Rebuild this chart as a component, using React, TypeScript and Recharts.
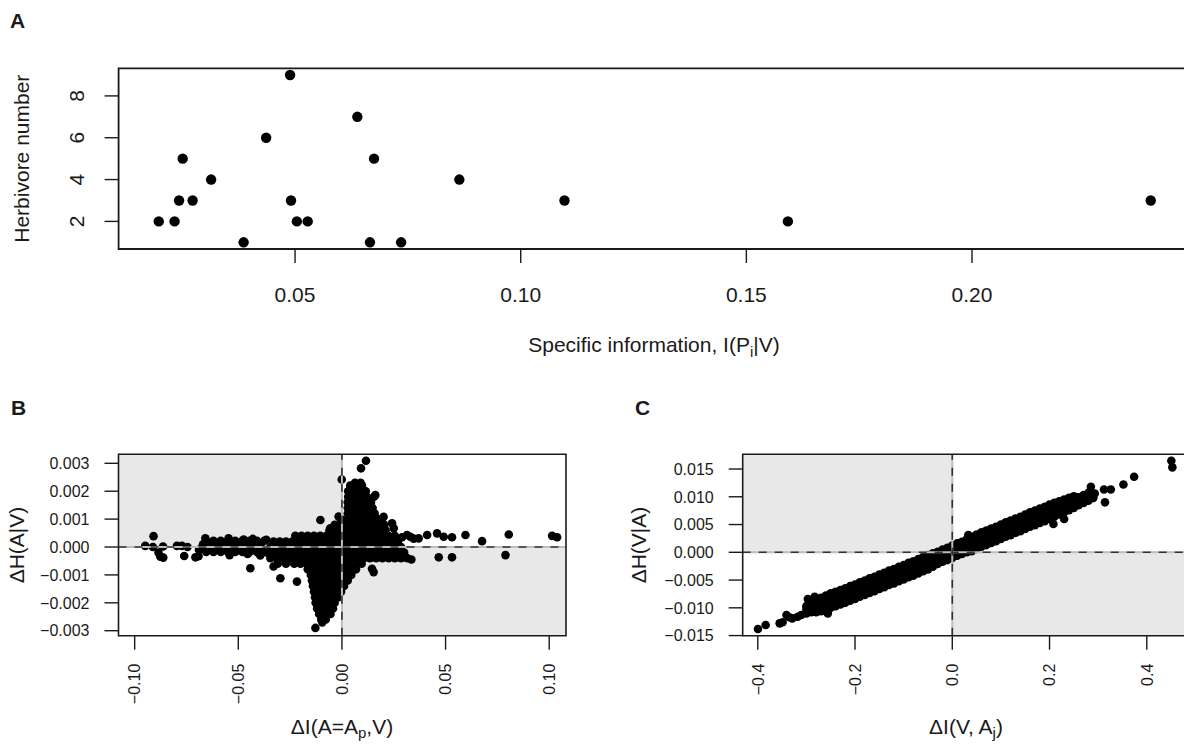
import React from 'react';
import { ScatterChart, Scatter, XAxis, YAxis, ReferenceArea, ReferenceLine } from 'recharts';

const FONT = '"Liberation Sans", Arial, Helvetica, sans-serif';
const INK = '#1a1a1a';
const SHADE = '#e8e8e8';
const ZERO_LINE = '#bdbdbd';

// ---------- Panel A: specific information vs herbivore number ----------
const aInfo = [0.0198, 0.0233, 0.0243, 0.0251, 0.0273, 0.0314, 0.0386, 0.0436, 0.0489, 0.0491,
  0.0504, 0.0528, 0.0638, 0.0666, 0.0675, 0.0735, 0.0864, 0.1097, 0.1592, 0.2396];
const aHerbivores = [2, 2, 3, 5, 3, 4, 1, 6, 9, 3, 2, 2, 7, 1, 5, 1, 4, 3, 2, 3];
const aTicksX = [0.05, 0.1, 0.15, 0.2];
const aTicksY = [2, 4, 6, 8];

// ---------- Panel B: dense cloud, read row by row (y, x values) ----------
const bCoreRows: [number, number[]][] = [
  [0.0004, [-0.0225, -0.0195, -0.0165, -0.0135, -0.0105, -0.0075, -0.0045, -0.0015, 0.0015, 0.0045, 0.0075, 0.0105, 0.0135, 0.0165, 0.0195, 0.0225, 0.0255]],
  [0.0002, [-0.033, -0.03, -0.027, -0.024, -0.021, -0.018, -0.015, -0.012, -0.009, -0.006, -0.003, 0, 0.003, 0.006, 0.009, 0.012, 0.015, 0.018, 0.021, 0.024, 0.027]],
  [0, [-0.0345, -0.0315, -0.0285, -0.0255, -0.0225, -0.0195, -0.0165, -0.0135, -0.0105, -0.0075, -0.0045, -0.0015, 0.0015, 0.0045, 0.0075, 0.0105, 0.0135, 0.0165, 0.0195, 0.0225, 0.0255, 0.0285]],
  [-0.0002, [-0.036, -0.033, -0.03, -0.027, -0.024, -0.021, -0.018, -0.015, -0.012, -0.009, -0.006, -0.003, 0, 0.003, 0.006, 0.009, 0.012, 0.015, 0.018, 0.021, 0.024, 0.027, 0.03]],
  [-0.0004, [-0.0345, -0.0315, -0.0285, -0.0255, -0.0225, -0.0195, -0.0165, -0.0135, -0.0105, -0.0075, -0.0045, -0.0015, 0.0015, 0.0045, 0.0075, 0.0105, 0.0135, 0.0165, 0.0195, 0.0225, 0.0255, 0.0285, 0.0315]],
];
const bLeftRows: [number, number[]][] = [
  [0.00022, [-0.0655, -0.062, -0.0585, -0.055, -0.0515, -0.048, -0.0445, -0.041, -0.0375]],
  [0.00002, [-0.0672, -0.0638, -0.0603, -0.0568, -0.0533, -0.0498, -0.0463, -0.0428, -0.0393]],
  [-0.00018, [-0.0655, -0.062, -0.0585, -0.055, -0.0515, -0.048, -0.0445, -0.041, -0.0375]],
];
const bDropRows: [number, number[]][] = [
  [-0.0006, [-0.031, -0.027, -0.023, -0.02, -0.017, -0.014, -0.011, -0.008, -0.005, -0.002, 0.001, 0.004, 0.007, 0.0095]],
  [-0.0008, [-0.0165, -0.0135, -0.0105, -0.0075, -0.0045, -0.0015, 0.0015, 0.0045, 0.0068]],
  [-0.001, [-0.015, -0.012, -0.009, -0.006, -0.003, 0, 0.003, 0.0045]],
  [-0.0012, [-0.0145, -0.0115, -0.0085, -0.0055, -0.0025, 0.0005, 0.0028]],
  [-0.0014, [-0.014, -0.011, -0.008, -0.005, -0.002, 0.001]],
  [-0.0016, [-0.0135, -0.0105, -0.0075, -0.0045, -0.0015, -0.0004]],
  [-0.0018, [-0.013, -0.01, -0.007, -0.004, -0.0017]],
  [-0.002, [-0.0127, -0.0097, -0.0067, -0.0035]],
  [-0.0022, [-0.012, -0.009, -0.006, -0.0043]],
  [-0.0024, [-0.011, -0.008, -0.0055]],
  [-0.0026, [-0.01, -0.0078]],
  [-0.0027, [-0.0095]],
];
const bRiseRows: [number, number[]][] = [
  [0.0006, [-0.006, -0.003, 0, 0.003, 0.006, 0.009, 0.012, 0.015, 0.018, 0.021]],
  [0.0008, [-0.0035, -0.0005, 0.0025, 0.0055, 0.0085, 0.0115, 0.0145, 0.0175, 0.0205]],
  [0.001, [-0.0005, 0.0028, 0.0058, 0.0088, 0.0118, 0.0148, 0.0175, 0.019]],
  [0.0012, [0.0028, 0.0058, 0.0088, 0.0118, 0.0148, 0.0158]],
  [0.0014, [0.0028, 0.0058, 0.0088, 0.0118, 0.0148]],
  [0.0016, [0.0028, 0.0058, 0.0088, 0.0118, 0.014]],
  [0.0018, [0.003, 0.006, 0.009, 0.012, 0.0155]],
  [0.002, [0.003, 0.006, 0.009, 0.0115]],
  [0.0022, [0.004, 0.007, 0.0097]],
  [0.0023, [0.0063, 0.009]],
];
const bLeftTail: [number, number][] = [
  [-0.0949, 0.00004], [-0.0909, 0.00039], [-0.0912, 0], [-0.0885, -0.0002], [-0.0876, -0.00035],
  [-0.0862, -0.00038], [-0.0863, 0.00002], [-0.0796, 0.00004], [-0.0772, 0.00004], [-0.0761, -0.00032],
  [-0.0745, 0], [-0.0707, -0.00037], [-0.0692, -0.00033], [-0.069, -0.0001], [-0.067, 0.0001],
  [-0.0659, 0.00031], [-0.0547, 0.00031], [-0.0542, -0.00029], [-0.0474, 0.00027], [-0.0455, -0.00025],
  [-0.043, 0.00029], [-0.0394, -0.0003], [-0.0365, 0.00026],
];
const bStrays: [number, number][] = [
  [-0.0128, -0.0029], [-0.0001, 0.00242], [0.0092, 0.00282], [0.0116, 0.00309], [0.0161, 0.00186],
  [0.0201, 0.00108], [0.0242, 0.00085], [0.025, 0.00067], [0.0145, -0.00078], [0.0153, -0.0009],
  [-0.0104, 0.00097], [-0.0056, 0.00067], [-0.0016, 0.00109], [-0.0442, -0.00076], [-0.033, -0.0007],
  [-0.0297, -0.00112], [-0.0217, -0.00124], [0.029, 0.00035], [0.0314, 0.00043], [0.033, 0.00037],
  [0.0346, 0.0003], [0.037, 0.00031], [0.0411, 0.00043], [0.0459, 0.00049], [0.0491, 0.00037],
  [0.0531, 0.00035], [0.0596, 0.00043], [0.0676, 0.00021], [0.0805, 0.00045], [0.1014, 0.0004],
  [0.1038, 0.00035], [0.0467, -0.00037], [0.0531, -0.00037], [0.0789, -0.00029], [0.0335, -0.00045],
];
const bTicksX = [-0.1, -0.05, 0, 0.05, 0.1];
const bTicksY = [-0.003, -0.002, -0.001, 0, 0.001, 0.002, 0.003];

// ---------- Panel C: diagonal band, read column by column (x, y values) ----------
const cBandCols: [number, number[]][] = [
  [-0.3, [-0.011, -0.0103, -0.0097]], [-0.29, [-0.0108, -0.0101, -0.0094]],
  [-0.28, [-0.0108, -0.01, -0.0093, -0.0086]], [-0.27, [-0.0106, -0.0098, -0.009, -0.0082]],
  [-0.26, [-0.0104, -0.0095, -0.0086, -0.0078]], [-0.25, [-0.01, -0.0091, -0.0082, -0.0074]],
  [-0.24, [-0.0097, -0.0088, -0.0079, -0.0071]], [-0.23, [-0.0094, -0.0085, -0.0076, -0.0068]],
  [-0.22, [-0.0091, -0.0082, -0.0073, -0.0065]], [-0.21, [-0.0087, -0.0078, -0.0069, -0.0061]],
  [-0.2, [-0.0084, -0.0075, -0.0066, -0.0058]], [-0.19, [-0.008, -0.0071, -0.0062, -0.0054]],
  [-0.18, [-0.0077, -0.0068, -0.0059, -0.0051]], [-0.17, [-0.0073, -0.0064, -0.0055, -0.0047]],
  [-0.16, [-0.007, -0.0061, -0.0052, -0.0044]], [-0.15, [-0.0066, -0.0057, -0.0048, -0.004]],
  [-0.14, [-0.0063, -0.0054, -0.0045, -0.0037]], [-0.13, [-0.0059, -0.005, -0.0041, -0.0033]],
  [-0.12, [-0.0056, -0.0047, -0.0038, -0.003]], [-0.11, [-0.0052, -0.0043, -0.0034, -0.0026]],
  [-0.1, [-0.0049, -0.004, -0.0031, -0.0023]], [-0.09, [-0.0045, -0.0036, -0.0027, -0.0019]],
  [-0.08, [-0.0042, -0.0033, -0.0024, -0.0016]], [-0.07, [-0.0038, -0.0029, -0.002, -0.0012]],
  [-0.06, [-0.0034, -0.0025, -0.0016, -0.0008]], [-0.05, [-0.0031, -0.0022, -0.0013, -0.0005]],
  [-0.04, [-0.0026, -0.0018, -0.001, -0.0002]], [-0.03, [-0.0021, -0.0013, -0.0006, 0.0001]],
  [-0.02, [-0.0017, -0.0009, -0.0002, 0.0005]], [-0.01, [-0.0014, -0.0006, 0.0001, 0.0008]],
  [0, [-0.001, -0.0002, 0.0005, 0.0012]], [0.01, [-0.0006, 0.0002, 0.0009, 0.0016]],
  [0.02, [-0.0003, 0.0005, 0.0012, 0.0019]], [0.03, [0, 0.0008, 0.0016, 0.0024]],
  [0.04, [0.0002, 0.0011, 0.002, 0.0028]], [0.05, [0.0006, 0.0015, 0.0024, 0.0032]],
  [0.06, [0.001, 0.0019, 0.0028, 0.0036]], [0.07, [0.0013, 0.0022, 0.0031, 0.0039]],
  [0.08, [0.0017, 0.0026, 0.0035, 0.0043]], [0.09, [0.002, 0.0029, 0.0038, 0.0046]],
  [0.1, [0.0024, 0.0033, 0.0042, 0.005]], [0.11, [0.0028, 0.0037, 0.0046, 0.0054]],
  [0.12, [0.0031, 0.004, 0.0049, 0.0057]], [0.13, [0.0035, 0.0044, 0.0053, 0.0061]],
  [0.14, [0.0038, 0.0047, 0.0056, 0.0064]], [0.15, [0.0042, 0.0051, 0.006, 0.0068]],
  [0.16, [0.0046, 0.0055, 0.0064, 0.0072]], [0.17, [0.0049, 0.0058, 0.0067, 0.0075]],
  [0.18, [0.0053, 0.0062, 0.0071, 0.0079]], [0.19, [0.0056, 0.0065, 0.0074, 0.0082]],
  [0.2, [0.006, 0.0069, 0.0078, 0.0086]], [0.21, [0.0064, 0.0072, 0.0081, 0.0089]],
  [0.22, [0.0068, 0.0076, 0.0085, 0.0092]], [0.23, [0.0072, 0.008, 0.0088, 0.0095]],
  [0.24, [0.0076, 0.0084, 0.0092, 0.0098]], [0.25, [0.008, 0.0087, 0.0095, 0.0101]],
  [0.26, [0.0085, 0.0092, 0.0099]], [0.27, [0.0089, 0.0096, 0.0103]],
  [0.28, [0.0093, 0.01, 0.0107]], [0.29, [0.0098, 0.0105]],
];
const cStrays: [number, number][] = [
  [-0.3996, -0.0138], [-0.3838, -0.0131], [-0.355, -0.0128], [-0.349, -0.0126], [-0.341, -0.0113],
  [-0.335, -0.0117], [-0.329, -0.0119], [-0.318, -0.0116], [-0.3105, -0.0113], [-0.297, -0.0084],
  [-0.283, -0.008], [-0.297, -0.0098], [-0.256, -0.011], [-0.262, -0.0105], [0.033, 0.0031],
  [0.208, 0.0051], [0.23, 0.006], [0.285, 0.0118], [0.288, 0.0103], [0.293, 0.0106],
  [0.312, 0.0113], [0.326, 0.0113], [0.314, 0.009], [0.352, 0.0122], [0.374, 0.0136],
  [0.4505, 0.0165], [0.4526, 0.0153],
];
const cTicksX = [-0.4, -0.2, 0, 0.2, 0.4];
const cTicksY = [-0.015, -0.01, -0.005, 0, 0.005, 0.01, 0.015];

const aPoints = aInfo.map((x, i) => ({ x, y: aHerbivores[i] }));
const fromRows = (rows: [number, number[]][]) => rows.flatMap(([y, xs]) => xs.map((x) => ({ x, y })));
const fromCols = (cols: [number, number[]][]) => cols.flatMap(([x, ys]) => ys.map((y) => ({ x, y })));
const fromPairs = (pairs: [number, number][]) => pairs.map(([x, y]) => ({ x, y }));

const bPoints = [
  ...fromRows(bCoreRows), ...fromRows(bLeftRows), ...fromRows(bDropRows), ...fromRows(bRiseRows),
  ...fromPairs(bLeftTail), ...fromPairs(bStrays),
];
const cPoints = [...fromCols(cBandCols), ...fromPairs(cStrays)];

const aDomX: [number, number] = [0.0109, 0.2483];
const aDomY: [number, number] = [0.68, 9.32];
const bDomX: [number, number] = [-0.1078, 0.1081];
const bDomY: [number, number] = [-0.003179, 0.003323];
const cDomX: [number, number] = [-0.431, 0.486];
const cDomY: [number, number] = [-0.01502, 0.01765];

const fmt = (v: number, digits: number) => (v < 0 ? '\u2212' : '') + Math.abs(v).toFixed(digits);

const dot = (r: number) => (props: any) => <circle cx={props.cx} cy={props.cy} r={r} fill="#000" />;

const tickLine = { stroke: INK, strokeWidth: 1.4 };

// R style: small panels get horizontal y labels and perpendicular x labels
const flatTickY = (digits: number) => ({ x, y, payload }: any) => (
  <text x={x} y={y} dy="0.36em" textAnchor="end" fontSize={16} fontFamily={FONT} fill={INK}>
    {fmt(payload.value, digits)}
  </text>
);
const turnedTickX = (digits: number) => ({ x, y, payload }: any) => (
  <text x={x} y={y} dy="0.36em" transform={`rotate(-90 ${x} ${y})`} textAnchor="end" fontSize={16} fontFamily={FONT} fill={INK}>
    {fmt(payload.value, digits)}
  </text>
);
const aTickX = ({ x, y, payload }: any) => (
  <text x={x} y={y + 15} textAnchor="middle" fontSize={21} fontFamily={FONT} fill={INK}>
    {fmt(payload.value, 2)}
  </text>
);
const aTickY = ({ x, y, payload }: any) => (
  <text x={x} y={y} transform={`rotate(-90 ${x} ${y})`} textAnchor="middle" fontSize={21} fontFamily={FONT} fill={INK}>
    {payload.value}
  </text>
);

const zeroLines = () => [
  <ReferenceLine key="gx" x={0} stroke={ZERO_LINE} strokeWidth={2} zIndex={1000} />,
  <ReferenceLine key="gy" y={0} stroke={ZERO_LINE} strokeWidth={2} zIndex={1000} />,
  <ReferenceLine key="dx" x={0} stroke="#333" strokeWidth={1.6} strokeDasharray="8 8" zIndex={1001} />,
  <ReferenceLine key="dy" y={0} stroke="#333" strokeWidth={1.6} strokeDasharray="8 8" zIndex={1001} />,
];

const App: React.FC = () => {
  return (
    <div style={{ position: 'absolute', left: 0, top: 0, width: 1184, height: 744, overflow: 'hidden', background: '#fff' }}>
      {/* A */}
      <div style={{ position: 'absolute', left: 0, top: 0 }}>
        <ScatterChart width={1200} height={320} margin={{ top: 68.3, right: 10, bottom: 0, left: 0 }}>
          <XAxis type="number" dataKey="x" domain={aDomX} allowDataOverflow ticks={aTicksX} interval={0}
            height={71} axisLine={false} tickLine={tickLine} tickSize={14} tickMargin={24} tick={aTickX} />
          <YAxis type="number" dataKey="y" domain={aDomY} allowDataOverflow ticks={aTicksY} interval={0}
            width={118.6} axisLine={false} tickLine={tickLine} tickSize={14} tickMargin={21} tick={aTickY} />
          <Scatter data={aPoints} isAnimationActive={false} shape={dot(5.2)} />
          <ReferenceArea x1={aDomX[0]} x2={aDomX[1]} y1={aDomY[0]} y2={aDomY[1]} fill="none" stroke={INK} strokeWidth={1.8} fillOpacity={0} zIndex={1002} />
        </ScatterChart>
      </div>

      {/* B */}
      <div style={{ position: 'absolute', left: 0, top: 440 }}>
        <ScatterChart width={590} height={304} margin={{ top: 14.3, right: 24, bottom: 0, left: 0 }}>
          <XAxis type="number" dataKey="x" domain={bDomX} allowDataOverflow ticks={bTicksX} interval={0}
            height={108.3} axisLine={false} tickLine={tickLine} tickSize={14} tickMargin={14} tick={turnedTickX(2)} />
          <YAxis type="number" dataKey="y" domain={bDomY} allowDataOverflow ticks={bTicksY} interval={0}
            width={118.5} axisLine={false} tickLine={tickLine} tickSize={14} tickMargin={15} tick={flatTickY(3)} />
          <ReferenceArea x1={bDomX[0]} x2={0} y1={0} y2={bDomY[1]} fill={SHADE} fillOpacity={1} stroke="none" zIndex={50} />
          <ReferenceArea x1={0} x2={bDomX[1]} y1={bDomY[0]} y2={0} fill={SHADE} fillOpacity={1} stroke="none" zIndex={50} />
          <Scatter data={bPoints} isAnimationActive={false} shape={dot(4.3)} />
          {zeroLines()}
          <ReferenceArea x1={bDomX[0]} x2={bDomX[1]} y1={bDomY[0]} y2={bDomY[1]} fill="none" stroke={INK} strokeWidth={1.6} fillOpacity={0} zIndex={1002} />
        </ScatterChart>
      </div>

      {/* C */}
      <div style={{ position: 'absolute', left: 590, top: 440 }}>
        <ScatterChart width={610} height={304} margin={{ top: 14.3, right: 11.4, bottom: 0, left: 0 }}>
          <XAxis type="number" dataKey="x" domain={cDomX} allowDataOverflow ticks={cTicksX} interval={0}
            height={108.3} axisLine={false} tickLine={tickLine} tickSize={14} tickMargin={14} tick={turnedTickX(1)} />
          <YAxis type="number" dataKey="y" domain={cDomY} allowDataOverflow ticks={cTicksY} interval={0}
            width={152.7} axisLine={false} tickLine={tickLine} tickSize={14} tickMargin={15} tick={flatTickY(3)} />
          <ReferenceArea x1={cDomX[0]} x2={0} y1={0} y2={cDomY[1]} fill={SHADE} fillOpacity={1} stroke="none" zIndex={50} />
          <ReferenceArea x1={0} x2={cDomX[1]} y1={cDomY[0]} y2={0} fill={SHADE} fillOpacity={1} stroke="none" zIndex={50} />
          <Scatter data={cPoints} isAnimationActive={false} shape={dot(4.3)} />
          {zeroLines()}
          <ReferenceArea x1={cDomX[0]} x2={cDomX[1]} y1={cDomY[0]} y2={cDomY[1]} fill="none" stroke={INK} strokeWidth={1.6} fillOpacity={0} zIndex={1002} />
        </ScatterChart>
      </div>

      {/* panel letters and axis titles */}
      <svg width={1184} height={744} style={{ position: 'absolute', left: 0, top: 0, pointerEvents: 'none' }}
        fontFamily={FONT} fill={INK}>
        <text x={10} y={28} fontSize={21} fontWeight="bold">A</text>
        <text x={11} y={415} fontSize={21} fontWeight="bold">B</text>
        <text x={635} y={415} fontSize={21} fontWeight="bold">C</text>

        <text transform="translate(28.7 158.7) rotate(-90)" textAnchor="middle" fontSize={21}>Herbivore number</text>
        <text x={654} y={352} textAnchor="middle" fontSize={21}>
          Specific information, I(P<tspan dy={5} fontSize={15}>i</tspan><tspan dy={-5}>|V)</tspan>
        </text>

        <text transform="translate(24 545) rotate(-90)" textAnchor="middle" fontSize={21}>ΔH(A|V)</text>
        <text x={342} y={734} textAnchor="middle" fontSize={21}>
          ΔI(A=A<tspan dy={4} fontSize={15}>p</tspan><tspan dy={-4}>,V)</tspan>
        </text>

        <text transform="translate(646 545) rotate(-90)" textAnchor="middle" fontSize={21}>ΔH(V|A)</text>
        <text x={966} y={734} textAnchor="middle" fontSize={21}>
          ΔI(V, A<tspan dy={4} fontSize={15}>j</tspan><tspan dy={-4}>)</tspan>
        </text>
      </svg>
    </div>
  );
};

export default App;
